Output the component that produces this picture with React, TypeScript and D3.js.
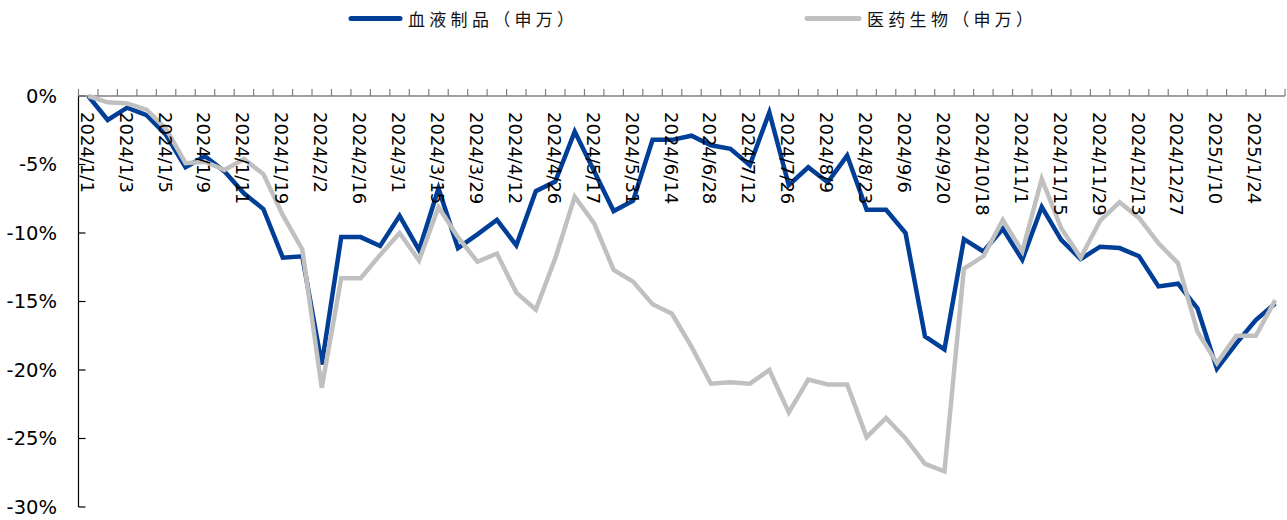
import React from "react";
import * as d3 from "d3";

const dates: string[] = [
  "2024/1/1", "2024/1/2", "2024/1/3", "2024/1/4", "2024/1/5", "2024/1/8", "2024/1/9", "2024/1/10",
  "2024/1/11", "2024/1/12", "2024/1/19", "2024/1/26", "2024/2/2", "2024/2/9", "2024/2/16", "2024/2/23",
  "2024/3/1", "2024/3/8", "2024/3/15", "2024/3/22", "2024/3/29", "2024/4/3", "2024/4/12", "2024/4/19",
  "2024/4/26", "2024/5/10", "2024/5/17", "2024/5/24", "2024/5/31", "2024/6/7", "2024/6/14", "2024/6/21",
  "2024/6/28", "2024/7/5", "2024/7/12", "2024/7/19", "2024/7/26", "2024/8/2", "2024/8/9", "2024/8/16",
  "2024/8/23", "2024/8/30", "2024/9/6", "2024/9/13", "2024/9/20", "2024/9/30", "2024/10/18", "2024/10/25",
  "2024/11/1", "2024/11/8", "2024/11/15", "2024/11/22", "2024/11/29", "2024/12/6", "2024/12/13", "2024/12/20",
  "2024/12/27", "2025/1/3", "2025/1/10", "2025/1/17", "2025/1/24", "2025/1/27",
];

const bloodProducts: number[] = [
  0, -1.75, -0.85, -1.4, -2.85, -5.2, -4.4, -5.5, -7.1, -8.25,
  -11.8, -11.7, -19.6, -10.3, -10.3, -10.95, -8.75, -11.25, -6.75, -11.1,
  -10.1, -9.05, -10.9, -6.95, -6.25, -2.6, -5.5, -8.4, -7.65, -3.2,
  -3.2, -2.9, -3.6, -3.85, -5.05, -1.2, -6.5, -5.2, -6.3, -4.35,
  -8.3, -8.3, -10.0, -17.55, -18.5, -10.45, -11.35, -9.7, -11.95, -8.1,
  -10.5, -11.9, -11.0, -11.1, -11.7, -13.9, -13.7, -15.5, -19.9, -18.05,
  -16.35, -15.15,
];

const pharmaBio: number[] = [
  0, -0.46, -0.55, -1.0, -2.4, -4.9, -4.8, -5.4, -4.6, -5.7,
  -8.7, -11.2, -21.3, -13.3, -13.3, -11.6, -10.0, -12.0, -8.1, -10.3,
  -12.1, -11.5, -14.35, -15.6, -11.85, -7.35, -9.3, -12.7, -13.55, -15.2,
  -15.9, -18.3, -21.0, -20.9, -21.0, -20.0, -23.1, -20.7, -21.05, -21.05,
  -24.9, -23.5, -25.0, -26.85, -27.4, -12.6, -11.7, -9.05, -11.35, -6.05,
  -9.65, -11.8, -9.1, -7.75, -8.9, -10.75, -12.2, -17.2, -19.5, -17.5,
  -17.5, -14.9,
];

const yTicks: number[] = [0, -5, -10, -15, -20, -25, -30];

const seriesNames = ["血液制品（申万）", "医药生物（申万）"];
const seriesColors = ["#003E97", "#C0C0C0"];

export default function App() {
  const W = 1287;
  const H = 520;
  const x = d3.scaleBand<string>().domain(dates).range([78.5, 1285]).paddingInner(0).paddingOuter(0);
  const y = d3.scaleLinear().domain([-30, 0]).range([507, 96]);
  const bw = x.bandwidth();
  const cx = (d: string) => (x(d) as number) + bw / 2;

  const line = d3
    .line<number>()
    .x((_, i) => cx(dates[i]))
    .y((v) => y(v));

  const tickXs = dates.map((d) => x(d) as number).concat([(x(dates[dates.length - 1]) as number) + bw]);
  const y0 = y(0);
  const font = "'DejaVu Sans', Verdana, sans-serif";

  return (
    <div style={{ position: "absolute", left: 0, top: 0 }}>
      <svg width={W} height={H} style={{ display: "block", background: "#fff" }}>
        {/* legend */}
        <g>
          <line x1={351} x2={400} y1={18.5} y2={18.5} stroke={seriesColors[0]} strokeWidth={5} strokeLinecap="round" />
          <text x={408} y={18.5} dominantBaseline="central" fontFamily="'Noto Sans CJK SC', sans-serif" fontSize={17} letterSpacing={4.3} fill="#111">
            {seriesNames[0]}
          </text>
          <line x1={807} x2={859} y1={18.5} y2={18.5} stroke={seriesColors[1]} strokeWidth={5} strokeLinecap="round" />
          <text x={867} y={18.5} dominantBaseline="central" fontFamily="'Noto Sans CJK SC', sans-serif" fontSize={17} letterSpacing={4.3} fill="#111">
            {seriesNames[1]}
          </text>
        </g>

        {/* y axis */}
        <line x1={78.5} x2={78.5} y1={y(0)} y2={y(-30)} stroke="#000" strokeWidth={1.2} />
        {yTicks.map((t) => (
          <g key={t}>
            <line x1={78.5} x2={85.5} y1={y(t)} y2={y(t)} stroke="#000" strokeWidth={1.2} />
            <text x={57} y={y(t)} textAnchor="end" dominantBaseline="central" fontFamily={font} fontSize={19.5} fill="#000">
              {`${t}%`}
            </text>
          </g>
        ))}

        {/* x axis */}
        <line x1={78.5} x2={1285} y1={y0} y2={y0} stroke="#808080" strokeWidth={1.5} />
        {tickXs.map((tx, i) => (
          <line key={i} x1={tx} x2={tx} y1={y0 - 7} y2={y0} stroke="#808080" strokeWidth={1.2} />
        ))}

        {/* series */}
        <path d={line(bloodProducts) || ""} fill="none" stroke={seriesColors[0]} strokeWidth={4.5} strokeLinejoin="miter" />
        <path d={line(pharmaBio) || ""} fill="none" stroke={seriesColors[1]} strokeWidth={4.5} strokeLinejoin="miter" />

        {/* x labels */}
        {dates.map((d, i) =>
          i % 2 === 0 ? (
            <text
              key={d}
              transform={`translate(${cx(d) - 1},${112}) rotate(90)`}
              dominantBaseline="central"
              fontFamily={font}
              fontSize={18}
              fill="#000"
            >
              {d}
            </text>
          ) : null
        )}
      </svg>
    </div>
  );
}
